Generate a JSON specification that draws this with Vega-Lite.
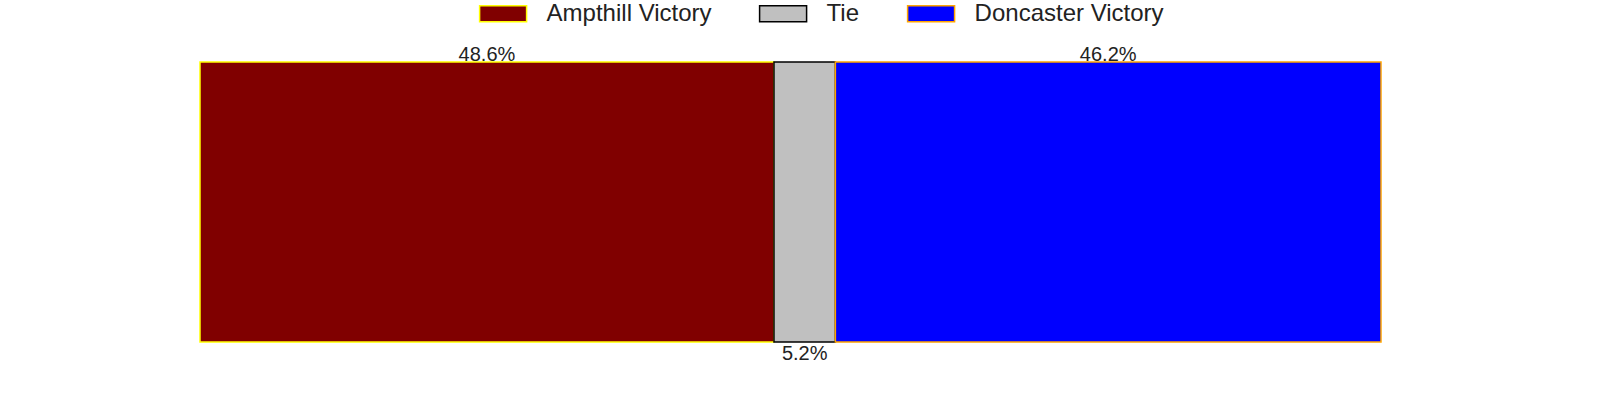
{
  "$schema": "https://vega.github.io/schema/vega-lite/v6.json",
  "width": 1181,
  "height": 280,
  "autosize": {"type": "none"},
  "padding": {"left": 200, "top": 62, "right": 219, "bottom": 58},
  "background": "white",
  "config": {"view": {"stroke": null}, "font": "Liberation Sans"},
  "data": {
    "values": [
      {"outcome": "Ampthill Victory", "pct": 48.6},
      {"outcome": "Tie", "pct": 5.2},
      {"outcome": "Doncaster Victory", "pct": 46.2}
    ]
  },
  "transform": [
    {"calculate": "indexof(['Ampthill Victory','Tie','Doncaster Victory'], datum.outcome)", "as": "rank"},
    {"stack": "pct", "groupby": [], "sort": [{"field": "rank", "order": "ascending"}], "as": ["x0", "x1"]},
    {"calculate": "(datum.x0 + datum.x1) / 2", "as": "mid"},
    {"calculate": "format(datum.pct, '.1f') + '%'", "as": "label"}
  ],
  "layer": [
    {
      "mark": {"type": "bar", "strokeWidth": 1.5},
      "encoding": {
        "x": {"field": "x0", "type": "quantitative", "scale": {"domain": [0, 100], "nice": false, "zero": true}, "axis": null},
        "x2": {"field": "x1"},
        "y": {"datum": 0, "type": "quantitative", "scale": {"domain": [0, 1], "nice": false}, "axis": null},
        "y2": {"datum": 1},
        "fill": {
          "field": "outcome",
          "type": "nominal",
          "scale": {"domain": ["Ampthill Victory", "Tie", "Doncaster Victory"], "range": ["#800000", "#C0C0C0", "#0000FF"]},
          "legend": {
            "title": null,
            "orient": "none",
            "direction": "horizontal",
            "legendX": 278.6,
            "legendY": -73,
            "padding": 0,
            "symbolType": "M-1,-0.34H1V0.34H-1Z",
            "symbolSize": 2209,
            "symbolStrokeWidth": 1.5,
            "labelFontSize": 24,
            "labelFont": "Liberation Sans",
            "labelColor": "#222222",
            "labelOffset": 19,
            "labelLimit": 400,
            "columnPadding": 45
          }
        },
        "stroke": {
          "field": "outcome",
          "type": "nominal",
          "scale": {"domain": ["Ampthill Victory", "Tie", "Doncaster Victory"], "range": ["#FFFF00", "#000000", "#FFA500"]}
        }
      }
    },
    {
      "transform": [{"filter": "datum.outcome != 'Tie'"}],
      "mark": {"type": "text", "baseline": "alphabetic", "dy": -1, "fontSize": 20, "color": "#222222"},
      "encoding": {
        "x": {"field": "mid", "type": "quantitative"},
        "y": {"datum": 1, "type": "quantitative"},
        "text": {"field": "label"}
      }
    },
    {
      "transform": [{"filter": "datum.outcome == 'Tie'"}],
      "mark": {"type": "text", "baseline": "top", "dy": 2, "fontSize": 20, "color": "#222222"},
      "encoding": {
        "x": {"field": "mid", "type": "quantitative"},
        "y": {"datum": 0, "type": "quantitative"},
        "text": {"field": "label"}
      }
    }
  ]
}
